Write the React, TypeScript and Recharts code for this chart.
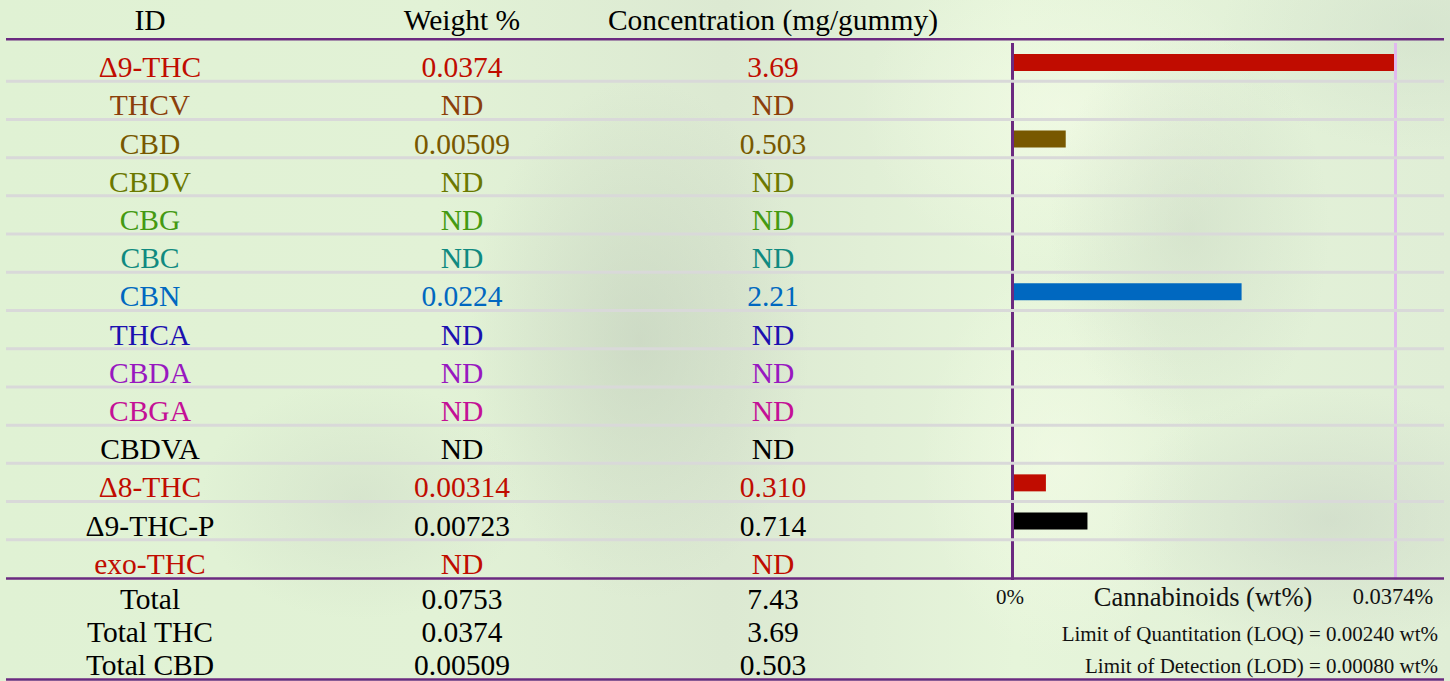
import React from 'react';
import { BarChart, Bar, XAxis, YAxis, Cell, ReferenceLine } from 'recharts';

const ids = ['Δ9-THC', 'THCV', 'CBD', 'CBDV', 'CBG', 'CBC', 'CBN', 'THCA', 'CBDA', 'CBGA', 'CBDVA', 'Δ8-THC', 'Δ9-THC-P', 'exo-THC'];
const weightValue = [0.0374, null, 0.00509, null, null, null, 0.0224, null, null, null, null, 0.00314, 0.00723, null];
const weightText = ['0.0374', 'ND', '0.00509', 'ND', 'ND', 'ND', '0.0224', 'ND', 'ND', 'ND', 'ND', '0.00314', '0.00723', 'ND'];
const concText = ['3.69', 'ND', '0.503', 'ND', 'ND', 'ND', '2.21', 'ND', 'ND', 'ND', 'ND', '0.310', '0.714', 'ND'];
const rowColors = ['#c00c00', '#8b3f0a', '#785800', '#6b7800', '#449a12', '#108a80', '#0068c0', '#1c10b0', '#9818c0', '#c41096', '#000000', '#c00c00', '#000000', '#c00c00'];

const headers = ['ID', 'Weight %', 'Concentration (mg/gummy)'];
const totalLabels = ['Total', 'Total THC', 'Total CBD'];
const totalWeight = ['0.0753', '0.0374', '0.00509'];
const totalConc = ['7.43', '3.69', '0.503'];
const axisMax = 0.0374;
const axisTitle = 'Cannabinoids (wt%)';
const limitNotes = ['Limit of Quantitation (LOQ) = 0.00240 wt%', 'Limit of Detection (LOD) = 0.00080 wt%'];

const W = 1450;
const H = 681;
const PLOT_TOP = 43;
const PLOT_BOTTOM = 578;
const PLOT_LEFT = 1014;
const PLOT_RIGHT = 1394;
const ROW_H = (PLOT_BOTTOM - PLOT_TOP) / ids.length;
const COL_X = [150, 462, 773];
const RULE_L = 6;
const RULE_R = 1444;
const PURPLE = '#6b2a80';
const FONT = 'Liberation Serif, Times New Roman, Times, serif';
const TEXT_SIZE = 29.5;

const rows = ids.map((id, i) => ({ id, weight: weightValue[i] }));

function RowTick(props: any) {
  const { y, payload } = props;
  const i = ids.indexOf(payload.value);
  const c = rowColors[i];
  const texts = [ids[i], weightText[i], concText[i]];
  return (
    <g>
      {i < ids.length - 1 && (
        <line x1={RULE_L} x2={RULE_R} y1={y + ROW_H / 2} y2={y + ROW_H / 2} stroke="#d9d9d9" strokeWidth={3} />
      )}
      {texts.map((t, k) => (
        <text key={k} x={COL_X[k]} y={y + 15} textAnchor="middle" fill={c} style={{ fontSize: TEXT_SIZE, fontFamily: FONT }}>
          {t}
        </text>
      ))}
    </g>
  );
}

function PctTick(props: any) {
  const { x, payload } = props;
  const zero = payload.value === 0;
  return (
    <text
      x={zero ? x - 4 : x - 1}
      y={PLOT_BOTTOM + 26}
      textAnchor="middle"
      fill="#111"
      style={{ fontSize: zero ? 21 : 22.5, fontFamily: FONT }}
    >
      {zero ? '0%' : `${payload.value}%`}
    </text>
  );
}

const VLine = (color: string, dx: number) => (p: any) => (
  <line x1={p.x1 + dx} x2={p.x2 + dx} y1={p.y1 + 2} y2={p.y2} stroke={color} strokeWidth={3} />
);

export default function App() {
  const bg = [
    'radial-gradient(ellipse 170px 260px at 640px 340px, rgba(185,198,180,0.45), rgba(185,198,180,0) 100%)',
    'radial-gradient(ellipse 140px 200px at 1190px 230px, rgba(190,203,185,0.35), rgba(190,203,185,0) 100%)',
    'radial-gradient(ellipse 220px 130px at 1330px 520px, rgba(190,200,188,0.4), rgba(190,200,188,0) 100%)',
    'radial-gradient(ellipse 160px 120px at 360px 500px, rgba(195,206,190,0.35), rgba(195,206,190,0) 100%)',
    'radial-gradient(ellipse 140px 200px at 1060px 460px, rgba(245,252,232,0.6), rgba(245,252,232,0) 100%)',
    'radial-gradient(ellipse 200px 160px at 1060px 110px, rgba(245,252,232,0.6), rgba(245,252,232,0) 100%)',
    'radial-gradient(ellipse 200px 120px at 1420px 30px, rgba(205,220,200,0.5), rgba(205,220,200,0) 100%)',
    'linear-gradient(90deg, #e0f2d4 0%, #e2f2d6 30%, #dce9d2 50%, #e6f5da 70%, #e0eed6 100%)',
  ].join(', ');

  return (
    <div style={{ position: 'relative', width: W, height: H, overflow: 'hidden', background: bg, fontFamily: FONT }}>
      <style>{'body{margin:0}'}</style>
      <BarChart
        width={W}
        height={H}
        data={rows}
        layout="vertical"
        margin={{ top: PLOT_TOP, right: W - PLOT_RIGHT, bottom: H - PLOT_BOTTOM - 30, left: PLOT_LEFT - 60 }}
      >
        <XAxis
          type="number"
          domain={[0, axisMax]}
          ticks={[0, axisMax]}
          axisLine={false}
          tickLine={false}
          height={30}
          tick={<PctTick />}
        />
        <YAxis
          type="category"
          dataKey="id"
          width={60}
          interval={0}
          axisLine={false}
          tickLine={false}
          tick={<RowTick />}
        />
        <ReferenceLine x={0} shape={VLine(PURPLE, -1.5)} />
        <ReferenceLine x={axisMax} shape={VLine('#e0b8ee', 1.5)} />
        <Bar dataKey="weight" barSize={17} isAnimationActive={false}>
          {rows.map((r, i) => (
            <Cell key={r.id} fill={rowColors[i]} />
          ))}
        </Bar>
      </BarChart>
      <svg width={W} height={H} style={{ position: 'absolute', left: 0, top: 0, pointerEvents: 'none' }}>
        {headers.map((h, k) => (
          <text key={h} x={COL_X[k]} y={30} textAnchor="middle" fill="#000" style={{ fontSize: TEXT_SIZE, fontFamily: FONT }}>
            {h}
          </text>
        ))}
        <line x1={RULE_L} x2={RULE_R} y1={39.3} y2={39.3} stroke={PURPLE} strokeWidth={2.6} />
        <line x1={RULE_L} x2={RULE_R} y1={PLOT_BOTTOM + 0.5} y2={PLOT_BOTTOM + 0.5} stroke={PURPLE} strokeWidth={2.6} />
        <line x1={RULE_L} x2={RULE_R} y1={679.5} y2={679.5} stroke={PURPLE} strokeWidth={2.6} />
        {totalLabels.map((t, k) => (
          <g key={t}>
            {[t, totalWeight[k], totalConc[k]].map((s, j) => (
              <text key={j} x={COL_X[j]} y={609 + k * 33} textAnchor="middle" fill="#000" style={{ fontSize: TEXT_SIZE, fontFamily: FONT }}>
                {s}
              </text>
            ))}
          </g>
        ))}
        <text
          x={(PLOT_LEFT + PLOT_RIGHT) / 2 - 1}
          y={PLOT_BOTTOM + 28}
          textAnchor="middle"
          fill="#111"
          style={{ fontSize: 26.5, fontFamily: FONT }}
        >
          {axisTitle}
        </text>
        {limitNotes.map((n, k) => (
          <text key={n} x={1438} y={641 + k * 32} textAnchor="end" fill="#111" style={{ fontSize: 21, fontFamily: FONT }}>
            {n}
          </text>
        ))}
      </svg>
    </div>
  );
}
